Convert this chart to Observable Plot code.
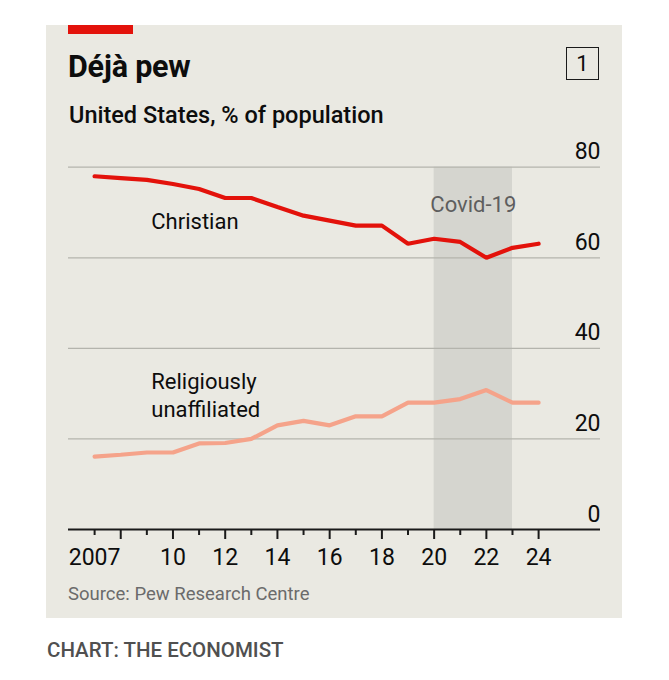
<!DOCTYPE html>
<html>
<head>
<meta charset="utf-8">
<script src="https://cdn.jsdelivr.net/npm/d3@7"></script>
<script src="https://cdn.jsdelivr.net/npm/@observablehq/plot@0.6"></script>
<style>
  html, body { margin: 0; padding: 0; background: #ffffff; }
  body { width: 669px; height: 680px; position: relative; overflow: hidden; font-family: Roboto, "Noto Sans", sans-serif; color: #0d0d0d; }
  #card { position: absolute; left: 46px; top: 25px; width: 576px; height: 593px; background: #eae9e2; }
  #redbar { position: absolute; left: 22px; top: 0; width: 65px; height: 9px; background: #e3120b; }
  .t { position: absolute; line-height: 1; white-space: nowrap; }
  #title { left: 22px; top: 27px; font-size: 30.5px; font-weight: 700; letter-spacing: -0.2px; }
  #subtitle { left: 23px; top: 78.5px; font-size: 23.5px; font-weight: 500; }
  #num { position: absolute; left: 520px; top: 22px; width: 31px; height: 31px; border: 1.6px solid #1a1a1a; font-size: 22px; text-align: center; line-height: 31px; }
  #chart { position: absolute; left: 0; top: 105px; }
  #source { left: 22px; top: 559.5px; font-size: 18.5px; color: #6b6b6b; }
  #caption { position: absolute; left: 47px; top: 639.5px; font-size: 20.5px; font-weight: 500; color: #505050; line-height: 1; }
</style>
</head>
<body>
<div id="card">
  <div id="redbar"></div>
  <div id="title" class="t">Déjà pew</div>
  <div id="subtitle" class="t">United States, % of population</div>
  <div id="num">1</div>
  <div id="chart"></div>
  <div id="source" class="t">Source: Pew Research Centre</div>
</div>
<div id="caption">CHART: THE ECONOMIST</div>
<script>
const years = [2007, 2008, 2009, 2010, 2011, 2012, 2013, 2014, 2015, 2016, 2017, 2018, 2019, 2020, 2021, 2022, 2023, 2024];
const christian = [78, 77.6, 77.2, 76.3, 75.2, 73.2, 73.2, 71.2, 69.3, 68.2, 67.1, 67.1, 63.1, 64.2, 63.5, 60, 62.2, 63.1];
const unaffiliated = [16.1, 16.5, 17, 17, 19, 19.1, 20, 23, 24, 23, 25, 25, 28, 28, 28.8, 30.8, 28, 28];
const yTicks = [0, 20, 40, 60, 80];
const labelYears = [2007, 2010, 2012, 2014, 2016, 2018, 2020, 2022, 2024];
const covid = [{start: 2020, end: 2023, label: "Covid-19"}];
const seriesLabels = [
  {x: 2009.17, y: 66.4, text: "Christian"},
  {x: 2009.17, y: 24.95, text: "Religiously\nunaffiliated"}
];

const christianData = years.map((y, i) => ({year: y, value: christian[i]}));
const unaffData = years.map((y, i) => ({year: y, value: unaffiliated[i]}));
const oddYears = years.filter(y => y % 2 === 1);
const evenYears = years.filter(y => y % 2 === 0);
const xMax = 2026.37;

const chart = Plot.plot({
  width: 576,
  height: 444,
  marginLeft: 22,
  marginRight: 22,
  marginTop: 36.7,
  marginBottom: 45,
  x: {domain: [2006, xMax]},
  y: {domain: [0, 80], axis: null},
  style: {fontFamily: "Roboto, 'Noto Sans', sans-serif", fontSize: "23px", color: "#0d0d0d", background: "transparent", overflow: "visible"},
  marks: [
    Plot.rect(covid, {x1: "start", x2: "end", y1: 0, y2: 80, fill: "#d5d5cf"}),
    Plot.ruleY([20, 40, 60, 80], {stroke: "#b4b4ad", strokeWidth: 1.2}),
    Plot.text(covid, {x: d => (d.start + d.end) / 2, y: 70, text: "label", lineAnchor: "bottom", textAnchor: "middle", fill: "#5e5e5e", fontSize: 22}),
    Plot.line(unaffData, {x: "year", y: "value", stroke: "#f5a38a", strokeWidth: 4.2, strokeLinejoin: "miter"}),
    Plot.line(christianData, {x: "year", y: "value", stroke: "#e3120b", strokeWidth: 4.2, strokeLinejoin: "miter"}),
    Plot.text(seriesLabels, {x: "x", y: "y", text: "text", textAnchor: "start", lineAnchor: "bottom", lineHeight: 1.26, fill: "#0d0d0d", fontSize: 22}),
    Plot.text(yTicks, {x: () => xMax, y: d => d, text: d => String(d), textAnchor: "end", lineAnchor: "bottom", dy: -8, fill: "#0d0d0d", fontSize: 23}),
    Plot.axisX({ticks: oddYears, tickSize: 6, fill: "none", strokeWidth: 2, stroke: "#1a1a1a", label: null}),
    Plot.axisX({ticks: evenYears, tickSize: 10, fill: "none", strokeWidth: 2, stroke: "#1a1a1a", label: null}),
    Plot.axisX({ticks: labelYears, tickSize: 0, tickPadding: 19, tickFormat: d => d === 2007 ? "2007" : String(d).slice(2), fontSize: 23, fill: "#0d0d0d", label: null}),
    Plot.ruleY([0], {stroke: "#1a1a1a", strokeWidth: 2})
  ]
});
document.getElementById("chart").appendChild(chart);
</script>
</body>
</html>
